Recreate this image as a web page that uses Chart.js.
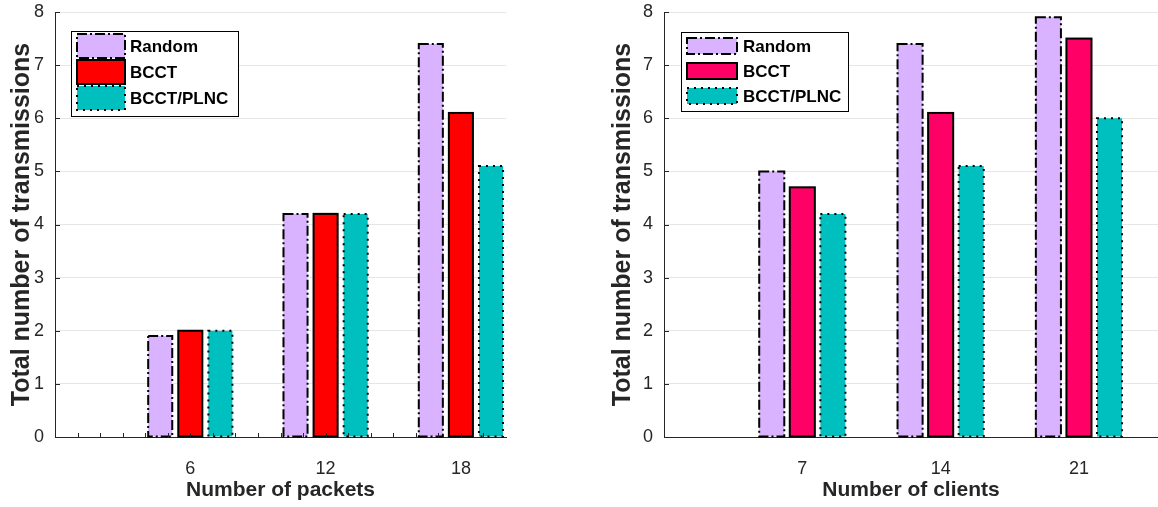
<!DOCTYPE html>
<html>
<head>
<meta charset="utf-8">
<script src="https://cdn.jsdelivr.net/npm/chart.js@4.4.0/dist/chart.umd.min.js"></script>
<style>
  body { margin: 0; background: #fff; }
  .wrap { position: absolute; top: 0; height: 507px; }
</style>
</head>
<body>
<div class="wrap" style="left:0;width:560px"><canvas id="left"></canvas></div>
<div class="wrap" style="left:600px;width:558px"><canvas id="right"></canvas></div>
<script>
// data
var seriesNames = ['Random', 'BCCT', 'BCCT/PLNC'];

var packets = [6, 12, 18];
var packetsRandom = [1.9, 4.2, 7.4];
var packetsBCCT = [2.0, 4.2, 6.1];
var packetsPLNC = [2.0, 4.2, 5.1];

var clients = [7, 14, 21];
var clientsRandom = [5.0, 7.4, 7.9];
var clientsBCCT = [4.7, 6.1, 7.5];
var clientsPLNC = [4.2, 5.1, 6.0];

var yTicks = [0, 1, 2, 3, 4, 5, 6, 7, 8];

var TXT = '#262626';
var FONT = "'Liberation Sans', Arial, sans-serif";

// Chart.js bars have no dashed borders, so stroke them here
var barOutline = {
    id: 'barOutline',
    afterDatasetsDraw: function(chart) {
        var ctx = chart.ctx;
        chart.data.datasets.forEach(function(ds, i) {
            var meta = chart.getDatasetMeta(i);
            ctx.save();
            ctx.strokeStyle = '#000';
            ctx.lineWidth = 2;
            ctx.setLineDash(ds.outlineDash || []);
            meta.data.forEach(function(bar) {
                var p = bar.getProps(['x', 'y', 'base', 'width'], true);
                ctx.strokeRect(p.x - p.width / 2, p.y, p.width, p.base - p.y);
            });
            ctx.restore();
        });
    }
};

// small inward ticks like matlab draws them
var innerTicks = {
    id: 'innerTicks',
    afterDatasetsDraw: function(chart, args, opts) {
        var ctx = chart.ctx, a = chart.chartArea;
        var ys = chart.scales.y, xs = chart.scales.x;
        ctx.save();
        ctx.strokeStyle = TXT;
        ctx.lineWidth = 1;
        ctx.beginPath();
        yTicks.forEach(function(v) {
            var py = Math.round(ys.getPixelForValue(v)) + 0.5;
            ctx.moveTo(a.left, py);
            ctx.lineTo(a.left + 5, py);
        });
        if (opts.minorX) {
            for (var v = 1; v < xs.max; v++) {
                var px = Math.round(xs.getPixelForValue(v)) + 0.5;
                ctx.moveTo(px, a.bottom);
                ctx.lineTo(px, a.bottom - 4);
            }
        }
        ctx.stroke();
        ctx.restore();
    }
};

// legend box inside the axes
var boxLegend = {
    id: 'boxLegend',
    afterDraw: function(chart, args, o) {
        var ctx = chart.ctx, a = chart.chartArea;
        var bx = a.left + o.dx, by = a.top + o.dy;
        ctx.save();
        ctx.fillStyle = '#fff';
        ctx.fillRect(bx, by, o.w, o.h);
        ctx.strokeStyle = '#000';
        ctx.lineWidth = 1;
        ctx.strokeRect(bx + 0.5, by + 0.5, o.w, o.h);
        chart.data.datasets.forEach(function(ds, i) {
            var py = by + o.rowTop + i * o.rowStep;
            ctx.fillStyle = ds.backgroundColor;
            ctx.fillRect(bx + o.patchX, py, o.patchW, o.patchH);
            ctx.strokeStyle = '#000';
            ctx.lineWidth = 2;
            ctx.setLineDash(ds.outlineDash || []);
            ctx.strokeRect(bx + o.patchX, py, o.patchW, o.patchH);
            ctx.setLineDash([]);
            ctx.fillStyle = '#000';
            ctx.font = 'bold 17px ' + FONT;
            ctx.textBaseline = 'middle';
            ctx.fillText(ds.label, bx + o.textX, py + o.patchH / 2 + 1);
        });
        ctx.restore();
    }
};

function makeSets(xs, r, b, p, bcctColor) {
    function pts(vals) {
        return xs.map(function(x, i) { return { x: x, y: vals[i] }; });
    }
    return [
        { label: seriesNames[0], data: pts(r), backgroundColor: '#d9b3ff', outlineDash: [10, 3, 2, 3] },
        { label: seriesNames[1], data: pts(b), backgroundColor: bcctColor, outlineDash: [] },
        { label: seriesNames[2], data: pts(p), backgroundColor: '#00bfbf', outlineDash: [2, 5] }
    ];
}

function makeChart(id, cfg) {
    return new Chart(document.getElementById(id), {
        type: 'bar',
        data: { datasets: makeSets(cfg.xs, cfg.r, cfg.b, cfg.p, cfg.bcctColor) },
        plugins: [barOutline, innerTicks, boxLegend],
        options: {
            responsive: true,
            maintainAspectRatio: false,
            animation: false,
            categoryPercentage: cfg.catPct,
            barPercentage: cfg.barPct,
            borderWidth: 0,
            layout: { padding: cfg.padding },
            plugins: {
                legend: { display: false },
                tooltip: { enabled: false },
                innerTicks: { minorX: cfg.minorX },
                boxLegend: cfg.legend
            },
            scales: {
                x: {
                    type: 'linear',
                    min: 0,
                    max: cfg.xMax,
                    offset: false,
                    afterBuildTicks: function(s) {
                        s.ticks = cfg.xs.map(function(v) { return { value: v }; });
                    },
                    afterFit: function(s) { s.height = 70; },
                    grid: { display: false, offset: false },
                    border: { display: true, color: TXT, width: 1 },
                    ticks: { color: TXT, font: { family: FONT, size: 18 }, padding: 13, maxRotation: 0 },
                    title: {
                        display: true, text: cfg.xTitle, color: TXT,
                        font: { family: FONT, size: 21, weight: 'bold' },
                        padding: { top: 0, bottom: 4 }
                    }
                },
                y: {
                    min: 0,
                    max: 8,
                    afterBuildTicks: function(s) {
                        s.ticks = yTicks.map(function(v) { return { value: v }; });
                    },
                    afterFit: function(s) {
                        s.width = cfg.yWidth;
                        s.paddingTop = 0;
                        s.paddingBottom = 0;
                    },
                    grid: { color: '#e6e6e6', drawTicks: false },
                    border: { display: true, color: TXT, width: 1 },
                    ticks: { color: TXT, font: { family: FONT, size: 18 }, padding: 11 },
                    title: {
                        display: true, text: 'Total number of transmissions', color: TXT,
                        font: { family: FONT, size: 25, weight: 'bold' },
                        padding: { top: cfg.yTitlePad, bottom: 0 }
                    }
                }
            }
        }
    });
}

makeChart('left', {
    xs: packets, r: packetsRandom, b: packetsBCCT, p: packetsPLNC,
    bcctColor: '#ff0000', xMax: 20, xTitle: 'Number of packets',
    catPct: 0.667, barPct: 0.8, yWidth: 55, yTitlePad: 7, minorX: true,
    padding: { top: 12, right: 54, left: 0, bottom: 0 },
    legend: { dx: 16, dy: 19, w: 167, h: 85, patchX: 6, patchW: 48, patchH: 24, rowTop: 3, rowStep: 26, textX: 59 }
});

makeChart('right', {
    xs: clients, r: clientsRandom, b: clientsBCCT, p: clientsPLNC,
    bcctColor: '#ff0066', xMax: 25, xTitle: 'Number of clients',
    catPct: 0.663, barPct: 0.82, yWidth: 64, yTitlePad: 8, minorX: false,
    padding: { top: 12, right: 0, left: 0, bottom: 0 },
    legend: { dx: 17, dy: 20, w: 167, h: 79, patchX: 6, patchW: 50, patchH: 16, rowTop: 6, rowStep: 25, textX: 62 }
});
</script>
</body>
</html>
